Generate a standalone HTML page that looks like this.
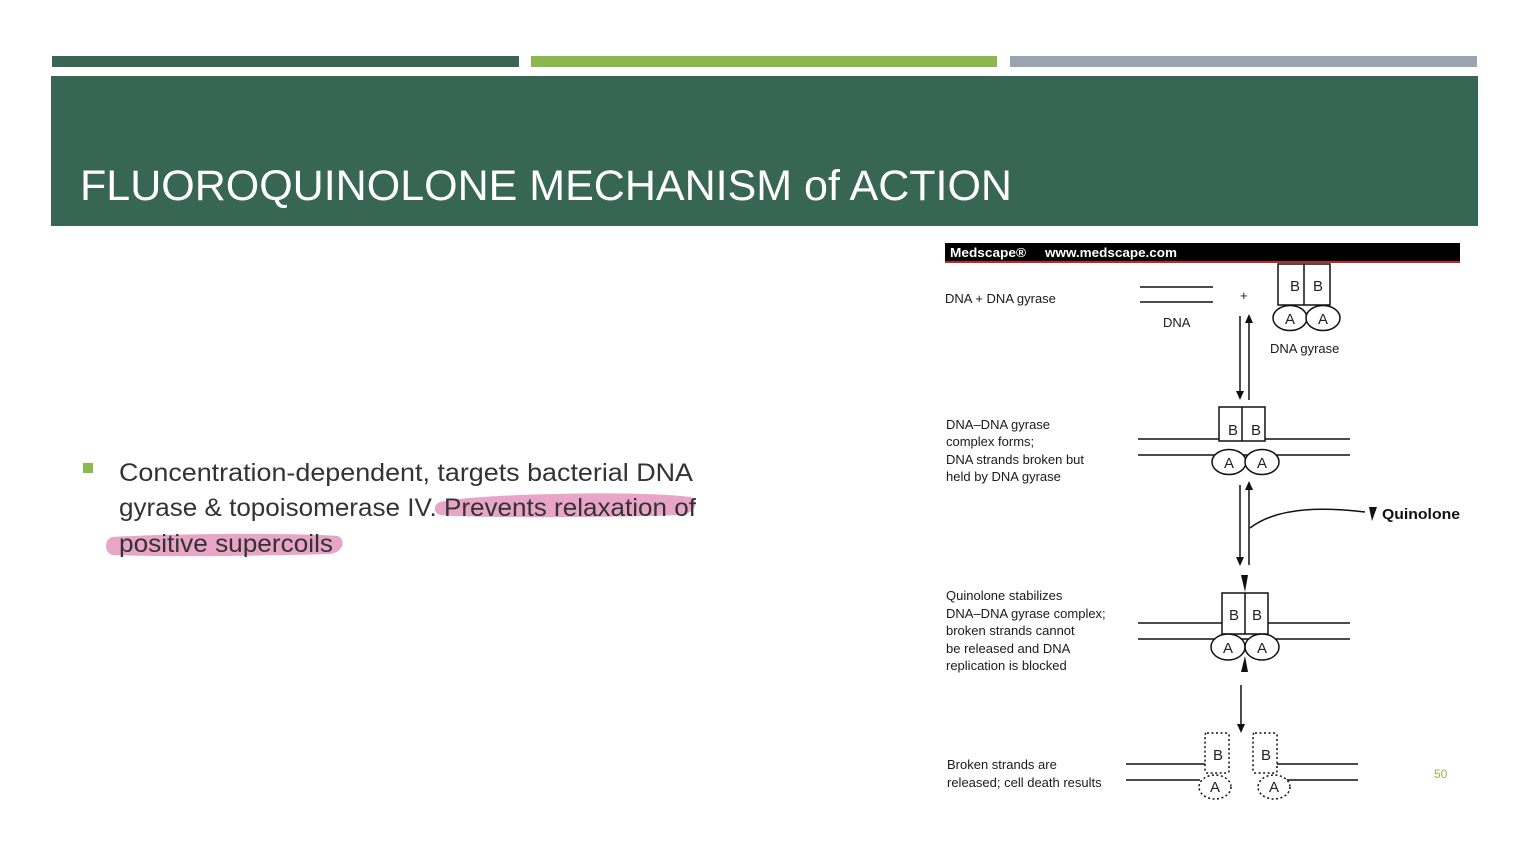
<!DOCTYPE html>
<html><head><meta charset="utf-8"><style>
html,body{margin:0;padding:0;background:#fff;}
svg{display:block;}
</style></head><body>
<svg width="1522" height="856" viewBox="0 0 1522 856" xmlns="http://www.w3.org/2000/svg" font-family="Liberation Sans, sans-serif">
<rect x="52" y="56" width="467" height="11" fill="#376654"/>
<rect x="531" y="56" width="466" height="11" fill="#8cb74c"/>
<rect x="1010" y="56" width="467" height="11" fill="#9aa4ae"/>
<rect x="51" y="76" width="1427" height="150" fill="#376654"/>
<text x="80" y="200" font-size="43" fill="#fff" textLength="932" lengthAdjust="spacingAndGlyphs">FLUOROQUINOLONE MECHANISM of ACTION</text>

<rect x="83" y="463" width="10" height="10" fill="#8cb74c"/>
<path d="M440 502 C 470 494, 640 490, 690 497 C 700 500, 696 514, 680 515 C 600 518, 470 518, 440 515 C 432 512, 434 504, 440 502 Z" fill="#e8a5c7"/>
<path d="M112 537 C 180 533, 300 533, 338 536 C 346 540, 344 552, 330 554 C 260 556, 160 557, 112 555 C 104 552, 104 540, 112 537 Z" fill="#e8a5c7"/>
<g font-size="25" fill="#333">
<text x="119" y="481" textLength="574" lengthAdjust="spacingAndGlyphs">Concentration-dependent, targets bacterial DNA</text>
<text x="119" y="516" textLength="577" lengthAdjust="spacingAndGlyphs">gyrase &amp; topoisomerase IV. Prevents relaxation of</text>
<text x="119" y="552" textLength="214" lengthAdjust="spacingAndGlyphs">positive supercoils</text>
</g>

<!-- diagram -->
<rect x="945" y="243" width="515" height="19" fill="#000"/>
<rect x="945" y="261" width="515" height="2" fill="#c0262b"/>
<text x="950" y="257" font-size="13" font-weight="bold" fill="#fff" textLength="76" lengthAdjust="spacingAndGlyphs">Medscape®</text>
<text x="1045" y="257" font-size="13" font-weight="bold" fill="#fff" textLength="132" lengthAdjust="spacingAndGlyphs">www.medscape.com</text>

<g font-size="13" fill="#1a1a1a">
<text x="945" y="303">DNA + DNA gyrase</text>
<text x="1163" y="327">DNA</text>
<text x="1270" y="353">DNA gyrase</text>
<text x="946" y="429">DNA–DNA gyrase</text>
<text x="946" y="446">complex forms;</text>
<text x="946" y="464">DNA strands broken but</text>
<text x="946" y="481">held by DNA gyrase</text>
<text x="946" y="600">Quinolone stabilizes</text>
<text x="946" y="618">DNA–DNA gyrase complex;</text>
<text x="946" y="635">broken strands cannot</text>
<text x="946" y="653">be released and DNA</text>
<text x="946" y="670">replication is blocked</text>
<text x="947" y="769">Broken strands are</text>
<text x="947" y="787">released; cell death results</text>
<text x="1240" y="300" font-size="13">+</text>
</g>
<text x="1382" y="519" font-size="15" font-weight="bold" fill="#111" textLength="78" lengthAdjust="spacingAndGlyphs">Quinolone</text>
<text x="1434" y="778" font-size="12" fill="#8cb74c">50</text>

<g stroke="#111" stroke-width="1.5" fill="none">
<line x1="1140" y1="287" x2="1213" y2="287"/>
<line x1="1140" y1="302" x2="1213" y2="302"/>
<rect x="1278" y="264" width="52" height="41" fill="#fff"/>
<line x1="1304" y1="264" x2="1304" y2="305"/>
<ellipse cx="1290" cy="318" rx="17" ry="12.5" fill="#fff"/>
<ellipse cx="1323" cy="318" rx="17" ry="12.5" fill="#fff"/>
<line x1="1240" y1="316" x2="1240" y2="392"/>
<line x1="1249" y1="322" x2="1249" y2="400"/>
<line x1="1138" y1="439" x2="1350" y2="439"/>
<line x1="1138" y1="455" x2="1350" y2="455"/>
<rect x="1219" y="407" width="46" height="34" fill="#fff"/>
<line x1="1242" y1="407" x2="1242" y2="441"/>
<ellipse cx="1229" cy="462" rx="17" ry="12.5" fill="#fff"/>
<ellipse cx="1262" cy="462" rx="17" ry="12.5" fill="#fff"/>
<line x1="1240" y1="485" x2="1240" y2="558"/>
<line x1="1249" y1="490" x2="1249" y2="565"/>
<path d="M1250 528 C 1280 505, 1330 508, 1365 512"/>
<line x1="1138" y1="623" x2="1350" y2="623"/>
<line x1="1138" y1="639" x2="1350" y2="639"/>
<rect x="1222" y="593" width="46" height="41" fill="#fff"/>
<line x1="1245" y1="593" x2="1245" y2="634"/>
<ellipse cx="1228" cy="647" rx="17" ry="13" fill="#fff"/>
<ellipse cx="1262" cy="647" rx="17" ry="13" fill="#fff"/>
<line x1="1241" y1="685" x2="1241" y2="724"/>
<line x1="1126" y1="764" x2="1205" y2="764"/>
<line x1="1126" y1="780" x2="1200" y2="780"/>
<line x1="1277" y1="764" x2="1358" y2="764"/>
<line x1="1285" y1="780" x2="1358" y2="780"/>
<g stroke-dasharray="2 2.5">
<rect x="1205" y="733" width="24" height="40" rx="2" fill="#fff"/>
<rect x="1253" y="733" width="24" height="40" rx="2" fill="#fff"/>
<ellipse cx="1215" cy="787" rx="16" ry="12" fill="#fff"/>
<ellipse cx="1274" cy="787" rx="16" ry="12" fill="#fff"/>
</g>
</g>
<g fill="#111">
<polygon points="1236,391 1244,391 1240,400"/>
<polygon points="1245,323 1253,323 1249,314"/>
<polygon points="1236,557 1244,557 1240,566"/>
<polygon points="1245,490 1253,490 1249,481"/>
<polygon points="1369,507 1377,507 1372,521"/>
<polygon points="1241,575 1248,575 1245,592"/>
<polygon points="1241,672 1248,672 1245,656"/>
<polygon points="1237,724 1245,724 1241,733"/>
</g>
<g font-size="15" fill="#222" text-anchor="middle">
<text x="1295" y="291">B</text><text x="1318" y="291">B</text>
<text x="1290" y="324">A</text><text x="1323" y="324">A</text>
<text x="1233" y="435">B</text><text x="1256" y="435">B</text>
<text x="1229" y="468">A</text><text x="1262" y="468">A</text>
<text x="1234" y="620">B</text><text x="1257" y="620">B</text>
<text x="1228" y="653">A</text><text x="1262" y="653">A</text>
<text x="1218" y="760">B</text><text x="1266" y="760">B</text>
<text x="1215" y="792">A</text><text x="1274" y="792">A</text>
</g>
</svg>
</body></html>
